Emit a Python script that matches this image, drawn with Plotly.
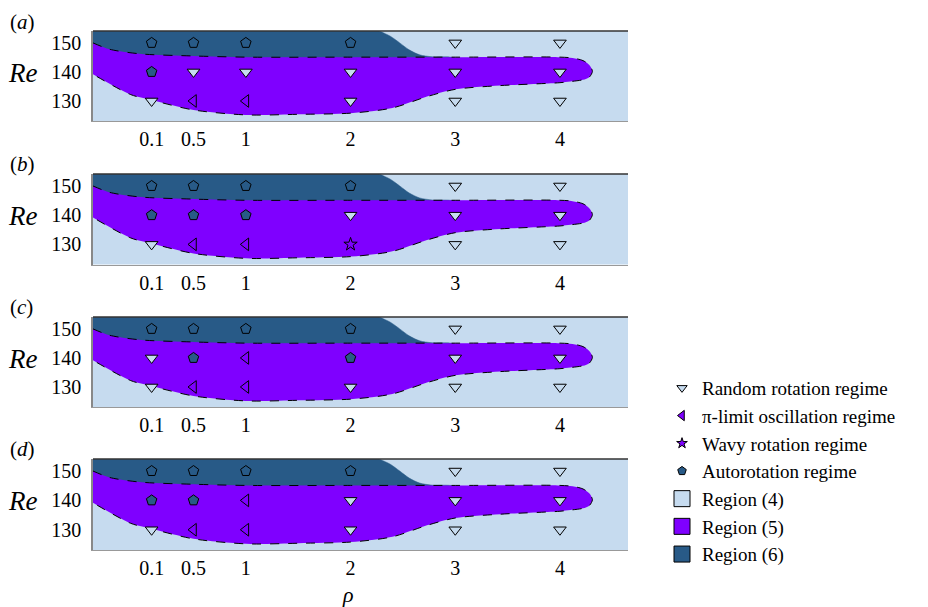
import plotly.graph_objects as go

# ---------------- data ----------------
rho_ticks = [0.1, 0.5, 1, 2, 3, 4]
rho_tick_text = ["0.1", "0.5", "1", "2", "3", "4"]
re_ticks = [130, 140, 150]

# regime at (Re row, rho column); R=random rotation, P=pi-limit, W=wavy, A=autorotation
panel_a = {150: ["A", "A", "A", "A", "R", "R"],
           140: ["A", "R", "R", "R", "R", "R"],
           130: ["R", "P", "P", "R", "R", "R"]}
panel_b = {150: ["A", "A", "A", "A", "R", "R"],
           140: ["A", "A", "A", "R", "R", "R"],
           130: ["R", "P", "P", "W", "R", "R"]}
panel_c = {150: ["A", "A", "A", "A", "R", "R"],
           140: ["R", "A", "P", "A", "R", "R"],
           130: ["R", "P", "P", "R", "R", "R"]}
panel_d = {150: ["A", "A", "A", "A", "R", "R"],
           140: ["A", "A", "P", "R", "R", "R"],
           130: ["R", "P", "P", "R", "R", "R"]}
panels = [("a", panel_a), ("b", panel_b), ("c", panel_c), ("d", panel_d)]

# region (5) boundary (upper edge left->right, then lower edge right->left)
reg5_rho = [-0.46, -0.3, 0.0, 0.5, 1.0, 2.0, 3.0, 4.0, 4.12, 4.22, 4.28, 4.31,
            4.28, 4.22, 4.1, 4.0, 3.43, 3.0, 2.73, 2.4, 2.0, 1.5, 1.0, 0.5, 0.1, -0.1, -0.46]
reg5_re = [150, 147.8, 146.2, 145.5, 145.1, 145.1, 145.1, 145.1, 144.8, 143.9, 142.4, 140.2,
           138.2, 137.3, 136.7, 136.3, 135.3, 134.0, 131.5, 127.6, 125.8, 125.4, 125.2, 126.9, 130.3, 132.2, 139.2]
# region (6) boundary
reg6_rho = [-0.7, 2.15, 2.28, 2.38, 2.47, 2.56, 2.66, 2.78, 3.0, 3.0, -0.7]
reg6_re = [156, 156, 154.0, 152.3, 150.0, 147.6, 145.9, 145.2, 144.6, 140, 140]

regime_names = {"R": "Random rotation regime", "P": "π-limit oscillation regime",
                "W": "Wavy rotation regime", "A": "Autorotation regime"}
region_names = ["Region (4)", "Region (5)", "Region (6)"]

# ---------------- style ----------------
C4 = "#c6dbef"
C5 = "#7f00ff"
C6 = "#285a87"
symbols = {"R": "triangle-down", "P": "triangle-left", "W": "star", "A": "pentagon"}
fills = {"R": C4, "P": C5, "W": C5, "A": C6}
FONT = "Liberation Serif"

OFF = 8  # page body margin
W, H = 920, 599


def px(x):
    return (x - OFF) / W


def py(y):
    return 1 - (y - OFF) / H


x0, x1 = 93, 628
tops = [31, 174, 317, 459]
bots = [121, 264.5, 407, 550]

fig = go.Figure()

for i, (lab, pdata) in enumerate(panels):
    k = "" if i == 0 else str(i + 1)
    xa, ya = "x" + k, "y" + k
    fig.add_trace(go.Scatter(x=reg6_rho, y=reg6_re, xaxis=xa, yaxis=ya, mode="lines",
                             fill="toself", fillcolor=C6,
                             line=dict(color=C6, width=0.5, shape="spline", smoothing=0.8),
                             showlegend=False, hoverinfo="skip"))
    fig.add_trace(go.Scatter(x=reg5_rho, y=reg5_re, xaxis=xa, yaxis=ya, mode="lines",
                             fill="toself", fillcolor=C5,
                             line=dict(color="black", width=1, dash="dash", shape="spline", smoothing=0.8),
                             showlegend=False, hoverinfo="skip"))
    for code in ["R", "P", "W", "A"]:
        xs, ys = [], []
        for re in [150, 140, 130]:
            for j, c in enumerate(pdata[re]):
                if c == code:
                    xs.append(rho_ticks[j])
                    ys.append(re)
        if xs:
            fig.add_trace(go.Scatter(x=xs, y=ys, xaxis=xa, yaxis=ya, mode="markers",
                                     marker=dict(symbol=symbols[code], size=11 if code != "W" else 10,
                                                 color=fills[code], line=dict(color="black", width=1)),
                                     showlegend=False, name=regime_names[code]))

    fig.update_layout(**{
        ("xaxis" + k): dict(domain=[px(x0), px(x1)], range=[-0.46, 4.65], tickvals=rho_ticks,
                            ticktext=rho_tick_text, showgrid=False, zeroline=False, anchor=ya,
                            showline=True, linecolor="#999999", linewidth=1, mirror=False,
                            ticks="", ticklabelstandoff=0,
                            tickfont=dict(family=FONT, size=20, color="black")),
        ("yaxis" + k): dict(domain=[py(bots[i]), py(tops[i])], range=[123.1, 154.1],
                            tickvals=re_ticks, showgrid=False, zeroline=False, anchor=xa,
                            showline=True, linecolor="#888888", linewidth=1.5, ticks="",
                            ticklabelstandoff=6,
                            tickfont=dict(family=FONT, size=20, color="black")),
    })
    fig.add_annotation(x=px(8), y=min(1.0, py(tops[i] - 24)), xref="paper", yref="paper",
                       text="(<i>%s</i>)" % lab, showarrow=False, xanchor="left", yanchor="top",
                       font=dict(family=FONT, size=21, color="black"))
    fig.add_annotation(x=px(22), y=py(tops[i] + 42), xref="paper", yref="paper",
                       text="<i>Re</i>", showarrow=False, xanchor="center", yanchor="middle",
                       font=dict(family=FONT, size=27, color="black"))
    # top border
    fig.add_shape(type="line", xref=xa + " domain", yref=ya + " domain", x0=0, x1=1, y0=1, y1=1,
                  line=dict(color="#333333", width=1.5))

fig.add_annotation(x=px(348), y=py(594), xref="paper", yref="paper", text="<i>ρ</i>",
                   showarrow=False, xanchor="center", yanchor="middle",
                   font=dict(family=FONT, size=22, color="black"))

# legend-only entries
for code in ["R", "P", "W", "A"]:
    fig.add_trace(go.Scatter(x=[None], y=[None], mode="markers", name=regime_names[code],
                             marker=dict(symbol=symbols[code], size=9 if code != "W" else 8,
                                         color=fills[code], line=dict(color="black", width=1))))
for nm, col in zip(region_names, [C4, C5, C6]):
    fig.add_trace(go.Scatter(x=[None], y=[None], mode="markers", name=nm,
                             marker=dict(symbol="square", size=16, color=col,
                                         line=dict(color="black", width=1))))

fig.update_layout(
    width=W, height=H, margin=dict(l=0, r=0, t=0, b=0),
    paper_bgcolor="white", plot_bgcolor=C4,
    legend=dict(x=px(662), y=py(369), xanchor="left", yanchor="top",
                font=dict(family=FONT, size=19, color="black"), tracegroupgap=0,
                itemsizing="trace", bgcolor="rgba(0,0,0,0)"),
    font=dict(family=FONT),
)
fig.write_html("out.html")
